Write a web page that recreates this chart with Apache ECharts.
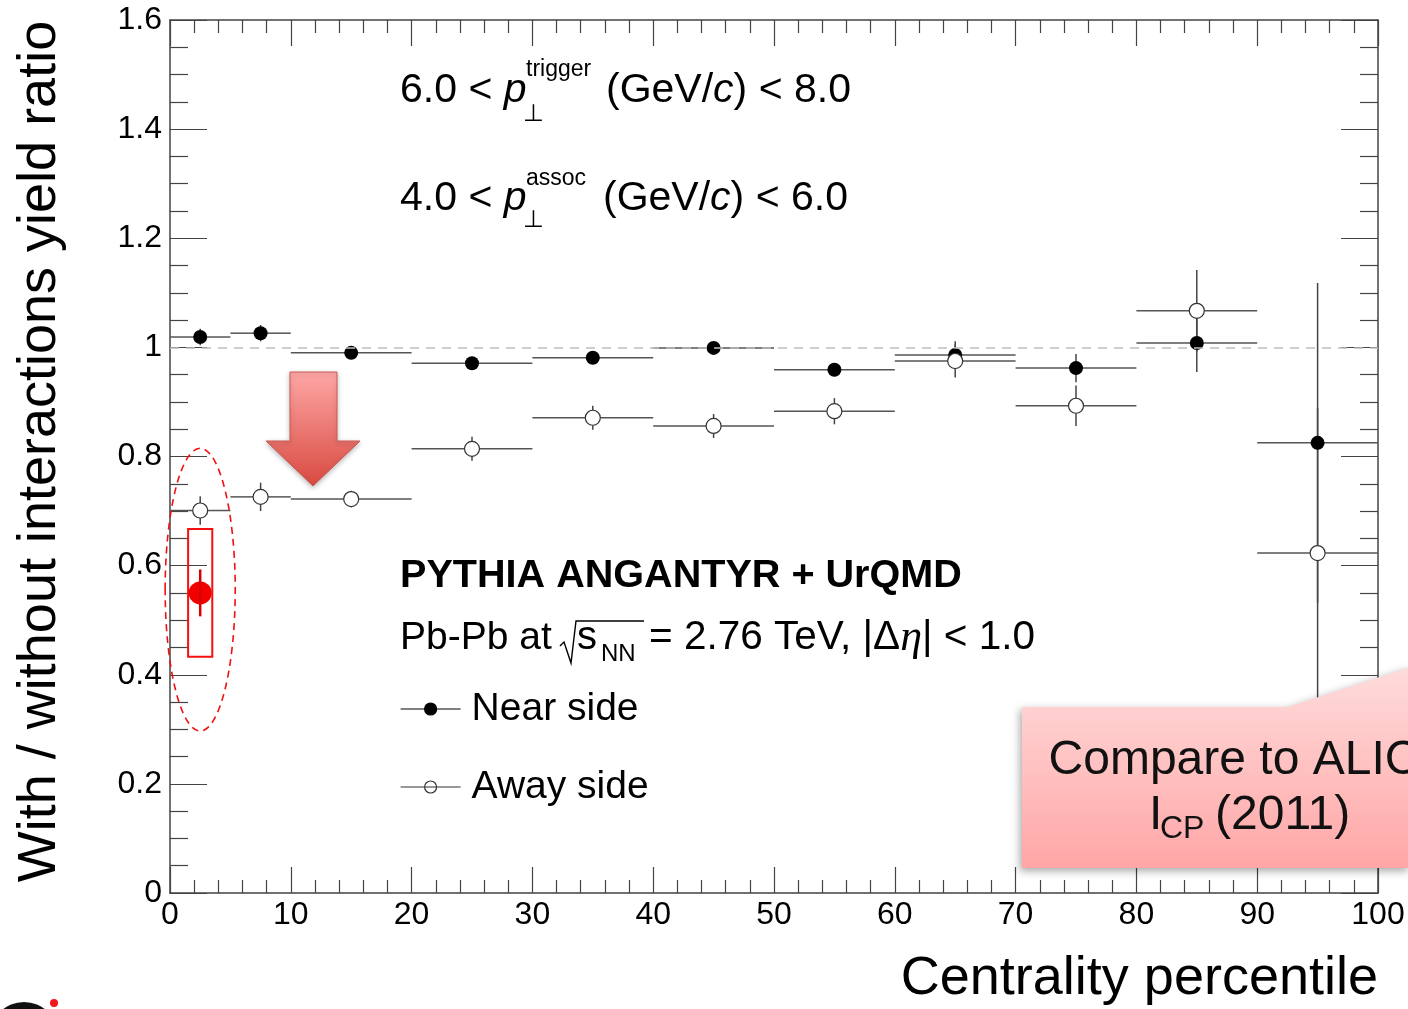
<!DOCTYPE html>
<html>
<head>
<meta charset="utf-8">
<script src="https://cdn.jsdelivr.net/npm/echarts@6/dist/echarts.min.js"></script>
<style>html,body{margin:0;padding:0;background:#fff;}#c{width:1408px;height:1009px;}</style>
</head>
<body>
<div id="c"></div>
<script>
// ---- data ----
const binLow  = [0, 5, 10, 20, 30, 40, 50, 60, 70, 80, 90];
const binHigh = [5, 10, 20, 30, 40, 50, 60, 70, 80, 90, 100];
const nearVal = [1.019, 1.026, 0.990, 0.971, 0.981, 0.999, 0.959, 0.986, 0.962, 1.008, 0.825];
const nearErr = [0.015, 0.015, 0.010, 0.010, 0.010, 0.010, 0.012, 0.025, 0.026, 0.053, 0.293];
const awayVal = [0.701, 0.726, 0.722, 0.814, 0.871, 0.856, 0.883, 0.975, 0.893, 1.067, 0.623];
const awayErr = [0.026, 0.026, 0.015, 0.022, 0.022, 0.022, 0.024, 0.030, 0.037, 0.075, 0.266];
const aliceX = [2.5];
const aliceVal = [0.550];
const aliceStat = [0.043];
const aliceSysX = [1.5, 3.5];
const aliceSys = [0.117];
const ellipseC = [2.5, 0.556];
const ellipseR = [2.9, 0.259];
const yTickLabels = {0: '0', 0.2: '0.2', 0.4: '0.4', 0.6: '0.6', 0.8: '0.8', 1: '1', 1.2: '1.2', 1.4: '1.4', 1.6: '1.6'};

const FONT = "'Liberation Sans', Helvetica, Arial, sans-serif";
const AX = '#444';

const centers = binLow.map((l, i) => (l + binHigh[i]) / 2);
const errData = (vals, errs) => vals.map((v, i) => [binLow[i], binHigh[i], centers[i], v, errs[i]]);

function errRender(gap) {
  return function (params, api) {
    const lo = api.value(0), hi = api.value(1), c = api.value(2), v = api.value(3), e = api.value(4);
    const pL = api.coord([lo, v]), pR = api.coord([hi, v]), pC = api.coord([c, v]);
    const pT = api.coord([c, v + e]), pB = api.coord([c, v - e]);
    const ch = [];
    const seg = (x1, y1, x2, y2, col) => ch.push({type: 'line', shape: {x1, y1, x2, y2}, style: {stroke: col, lineWidth: 1.5}});
    seg(pL[0], pC[1], pC[0] - gap, pC[1], '#555');
    seg(pC[0] + gap, pC[1], pR[0], pC[1], '#555');
    if (pC[1] - gap > pT[1]) seg(pC[0], pT[1], pC[0], pC[1] - gap, '#444');
    if (pC[1] + gap < pB[1]) seg(pC[0], pC[1] + gap, pC[0], pB[1], '#444');
    return {type: 'group', children: ch};
  };
}

function T(x, baseline, text, fs, extra) {
  extra = extra || {};
  return {
    type: 'text', x: x, y: baseline - 0.3465 * fs, z: 50,
    style: Object.assign({text: text, fontSize: fs, fontFamily: FONT, fill: '#000', align: 'left', verticalAlign: 'middle'}, extra)
  };
}
const italic = {i: {fontStyle: 'italic', fontSize: 41, fontFamily: FONT}};

const chart = echarts.init(document.getElementById('c'), null, {renderer: 'canvas'});

const xCommon = {
  type: 'value', min: 0, max: 100, interval: 10,
  axisLine: {show: true, onZero: false, lineStyle: {color: AX, width: 1.5}},
  axisTick: {show: true, inside: true, length: 26, lineStyle: {color: AX, width: 1.2}},
  minorTick: {show: true, splitNumber: 5, length: 13, lineStyle: {color: AX, width: 1.2}},
  splitLine: {show: false}, minorSplitLine: {show: false}
};
const yCommon = {
  type: 'value', min: 0, max: 1.6, interval: 0.2,
  axisLine: {show: true, onZero: false, lineStyle: {color: AX, width: 1.5}},
  axisTick: {show: true, inside: true, length: 37, lineStyle: {color: AX, width: 1.2}},
  minorTick: {show: true, splitNumber: 4, length: 18, lineStyle: {color: AX, width: 1.2}},
  splitLine: {show: false}, minorSplitLine: {show: false}
};

const option = {
  backgroundColor: '#fff',
  animation: false,
  grid: {left: 170, right: 30, top: 20, bottom: 116, containLabel: false},
  xAxis: [
    Object.assign({}, xCommon, {
      position: 'bottom',
      axisLabel: {fontSize: 32, color: '#000', fontFamily: FONT, margin: 6},
      name: 'Centrality percentile', nameLocation: 'end', nameGap: 0,
      nameTextStyle: {fontSize: 54, color: '#000', fontFamily: FONT, align: 'right', verticalAlign: 'top', padding: [59, 0, 0, 0]}
    }),
    Object.assign({}, xCommon, {position: 'top', axisLabel: {show: false}})
  ],
  yAxis: [
    Object.assign({}, yCommon, {
      position: 'left',
      axisLabel: {fontSize: 32, color: '#000', fontFamily: FONT, margin: 8,
        formatter: v => yTickLabels[Math.round(v * 10) / 10] !== undefined ? yTickLabels[Math.round(v * 10) / 10] : ''},
      name: 'With / without interactions yield ratio', nameLocation: 'middle', nameRotate: 90, nameGap: 103,
      nameTextStyle: {fontSize: 54, color: '#000', fontFamily: FONT, padding: [0, 0, 0, 10]}
    }),
    Object.assign({}, yCommon, {position: 'right', axisLabel: {show: false}})
  ],
  legend: {
    orient: 'vertical', left: 400, top: 689, padding: 0, itemWidth: 60, itemHeight: 13, itemGap: 38,
    selectedMode: false,
    textStyle: {fontSize: 39, fontFamily: FONT, color: '#000', lineHeight: 40, padding: [0, 0, 0, 6]},
    data: [
      {name: 'Near side', icon: 'path://M0,6.5 L60,6.5 M24,6.5 A6,6 0 1,0 36,6.5 A6,6 0 1,0 24,6.5 Z',
        itemStyle: {color: '#000', borderColor: '#000', borderWidth: 1.2}},
      {name: 'Away side', icon: 'path://M0,6.5 L60,6.5 M24,6.5 A6,6 0 1,0 36,6.5 A6,6 0 1,0 24,6.5 Z',
        itemStyle: {color: 'rgba(255,255,255,0)', borderColor: '#333', borderWidth: 1.2}}
    ]
  },
  series: [
    {
      name: 'ref', type: 'line', data: [], z: 1, silent: true,
      markLine: {silent: true, symbol: 'none', animation: false, label: {show: false},
        lineStyle: {type: [9, 7], color: '#bdbdbd', width: 1.5}, data: [{yAxis: 1}]}
    },
    {
      name: 'nearErr', type: 'custom', z: 2, silent: true, renderItem: errRender(0),
      encode: {x: 2, y: 3}, data: errData(nearVal, nearErr)
    },
    {
      name: 'awayErr', type: 'custom', z: 2, silent: true, renderItem: errRender(7.5),
      encode: {x: 2, y: 3}, data: errData(awayVal, awayErr)
    },
    {
      name: 'Near side', type: 'scatter', z: 3, symbol: 'circle', symbolSize: 14,
      itemStyle: {color: '#000', opacity: 1},
      data: centers.map((c, i) => [c, nearVal[i]])
    },
    {
      name: 'Away side', type: 'scatter', z: 3, symbol: 'circle', symbolSize: 15,
      itemStyle: {color: '#fff', borderColor: '#333', borderWidth: 1.2, opacity: 1},
      data: centers.map((c, i) => [c, awayVal[i]])
    },
    {
      name: 'aliceSys', type: 'custom', z: 4, silent: true,
      renderItem: function (params, api) {
        const a = api.coord([api.value(0), api.value(2) + api.value(3)]);
        const b = api.coord([api.value(1), api.value(2) - api.value(3)]);
        return {type: 'rect', shape: {x: a[0], y: a[1], width: b[0] - a[0], height: b[1] - a[1]},
          style: {fill: 'none', stroke: '#f41010', lineWidth: 2}};
      },
      encode: {x: 0, y: 2},
      data: [[aliceSysX[0], aliceSysX[1], aliceVal[0], aliceSys[0]]]
    },
    {
      name: 'ALICE', type: 'scatter', z: 5, symbol: 'circle', symbolSize: 23,
      itemStyle: {color: '#f20000', opacity: 1},
      data: aliceX.map((x, i) => [x, aliceVal[i]])
    },
    {
      name: 'aliceStat', type: 'custom', z: 6, silent: true,
      renderItem: function (params, api) {
        const t = api.coord([api.value(0), api.value(1) + api.value(2)]);
        const b = api.coord([api.value(0), api.value(1) - api.value(2)]);
        return {type: 'line', shape: {x1: t[0], y1: t[1], x2: b[0], y2: b[1]}, style: {stroke: '#d80000', lineWidth: 2.5}};
      },
      encode: {x: 0, y: 1},
      data: aliceX.map((x, i) => [x, aliceVal[i], aliceStat[i]])
    },
    {
      name: 'ellipse', type: 'custom', z: 6, silent: true,
      renderItem: function (params, api) {
        const c = api.coord([api.value(0), api.value(1)]);
        const s = api.size([api.value(2), api.value(3)]);
        return {type: 'ellipse', shape: {cx: c[0], cy: c[1], rx: s[0], ry: s[1]},
          style: {fill: 'none', stroke: '#f01010', lineWidth: 1.6, lineDash: [7, 5]}};
      },
      encode: {x: 0, y: 1},
      data: [[ellipseC[0], ellipseC[1], ellipseR[0], ellipseR[1]]]
    }
  ],
  graphic: [
    // header lines
    T(400, 105, '6.0 < {i|p}', 41, {rich: italic}),
    T(526, 78, 'trigger', 23),
    T(523, 123, '\u22A5', 24, {fontFamily: "'DejaVu Sans', sans-serif"}),
    T(606, 105, '(GeV/{i|c}) < 8.0', 41, {rich: italic}),
    T(400, 213, '4.0 < {i|p}', 41, {rich: italic}),
    T(526, 187, 'assoc', 23),
    T(523, 229, '\u22A5', 24, {fontFamily: "'DejaVu Sans', sans-serif"}),
    T(603, 213, '(GeV/{i|c}) < 6.0', 41, {rich: italic}),
    // model + system
    T(400, 590, 'PYTHIA ANGANTYR + UrQMD', 39.6, {fontWeight: 'bold'}),
    T(400, 652, 'Pb-Pb at', 39),
    {type: 'polyline', z: 50, shape: {points: [[560, 646], [564, 642], [571, 663], [576, 621], [644, 621]]},
      style: {stroke: '#000', lineWidth: 1.4, fill: 'none'}},
    T(577, 652, 's', 40),
    T(601, 663, 'NN', 24),
    T(649, 652, '= 2.76 TeV, |\u0394{e|\u03B7}| < 1.0', 40.5,
      {rich: {e: {fontStyle: 'italic', fontFamily: "'Liberation Serif', 'DejaVu Serif', serif", fontSize: 44}}}),
    // arrow
    {type: 'polygon', z: 60,
      shape: {points: [[290, 372], [337, 372], [337, 441], [360, 441], [313, 486], [266, 441], [290, 441]]},
      style: {fill: new echarts.graphic.LinearGradient(0, 0, 0, 1, [{offset: 0, color: '#fea7a6'}, {offset: 1, color: '#d84a40'}]),
        stroke: '#c85a54', lineWidth: 1, shadowBlur: 5, shadowColor: 'rgba(0,0,0,0.25)', shadowOffsetY: 2}},
    // callout
    {type: 'polygon', z: 70,
      shape: {points: [[1022, 707], [1288, 707], [1410, 667], [1410, 868], [1022, 868]]},
      style: {fill: new echarts.graphic.LinearGradient(0, 0, 0, 1, [{offset: 0, color: '#ffdcdc'}, {offset: 1, color: '#ffa6a6'}]),
        shadowBlur: 8, shadowColor: 'rgba(0,0,0,0.35)', shadowOffsetX: -2, shadowOffsetY: 3}},
    {type: 'text', z: 80, x: 1250, y: 777 - 0.3465 * 48,
      style: {text: 'Compare to ALICE', fontSize: 48, fontFamily: FONT, fill: '#111', align: 'center', verticalAlign: 'middle'}},
    {type: 'text', z: 80, x: 1149, y: 832 - 0.3465 * 48,
      style: {text: 'I', fontSize: 48, fontFamily: FONT, fill: '#111', align: 'left', verticalAlign: 'middle'}},
    {type: 'text', z: 80, x: 1160, y: 840 - 0.3465 * 32,
      style: {text: 'CP', fontSize: 32, fontFamily: FONT, fill: '#111', align: 'left', verticalAlign: 'middle'}},
    {type: 'text', z: 80, x: 1215, y: 832 - 0.3465 * 48,
      style: {text: '(2011)', fontSize: 48, fontFamily: FONT, fill: '#111', align: 'left', verticalAlign: 'middle'}},
    // partial logo at the bottom-left corner
    {type: 'circle', z: 50, shape: {cx: 24, cy: 1036, r: 34}, style: {fill: '#111'}},
    {type: 'circle', z: 50, shape: {cx: 54, cy: 1003, r: 4}, style: {fill: '#f01818'}}
  ]
};
chart.setOption(option);
</script>
</body>
</html>
